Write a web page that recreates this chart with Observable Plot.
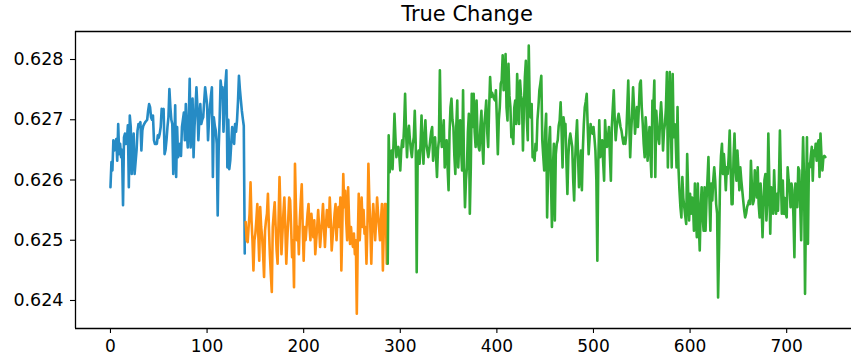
<!DOCTYPE html>
<html><head><meta charset="utf-8">
<script src="https://cdn.jsdelivr.net/npm/d3@7"></script>
<script src="https://cdn.jsdelivr.net/npm/@observablehq/plot@0.6"></script>
<style>
html,body{margin:0;padding:0;background:#fff;overflow:hidden}
#chart{position:relative;width:851px;height:360px}
#title{position:absolute;left:0;width:934px;text-align:center;top:2px;font:21px "DejaVu Sans",sans-serif;color:#000}
#plot{position:absolute;left:0;top:0}
</style></head><body>
<div id="chart"><div id="plot"></div><div id="title">True Change</div></div>
<script>
const title = "True Change";
const xTicks = [0, 100, 200, 300, 400, 500, 600, 700];
const yTicks = [0.624, 0.625, 0.626, 0.627, 0.628];
const blueStart = 0, orangeStart = 140, greenStart = 287;
const blueValues = [
.62588,.62630,.62616,.62666,.62649,.62655,.62668,.62632,.62693,.62643,
.62660,.62638,.62650,.62558,.62671,.62677,.62660,.62666,.62691,.62588,
.62707,.62688,.62610,.62640,.62677,.62610,.62630,.62649,.62682,.62693,
.62690,.62696,.62649,.62682,.62690,.62693,.62696,.62698,.62700,.62715,
.62726,.62721,.62704,.62700,.62707,.62666,.62660,.62660,.62660,.62674,
.62670,.62677,.62688,.62718,.62716,.62718,.62643,.62650,.62666,.62688,
.62704,.62751,.62721,.62700,.62693,.62610,.62650,.62724,.62605,.62688,
.62638,.62643,.62660,.62640,.62688,.62700,.62712,.62666,.62726,.62680,
.62654,.62700,.62768,.62654,.62700,.62735,.62638,.62688,.62720,.62754,
.62721,.62666,.62700,.62726,.62693,.62700,.62704,.62730,.62754,.62740,
.62726,.62666,.62699,.62720,.62740,.62754,.62605,.62704,.62690,.62682,
.62660,.62541,.62650,.62700,.62765,.62750,.62754,.62680,.62720,.62760,
.62782,.62621,.62700,.62618,.62632,.62660,.62688,.62670,.62660,.62693,
.62680,.62699,.62730,.62773,.62750,.62732,.62715,.62702,.62690,.62478];
const orangeValues = [
.62530,.62500,.62497,.62522,.62544,.62596,.62533,.62500,.62450,.62500,
.62511,.62533,.62560,.62511,.62466,.62555,.62522,.62505,.62477,.62439,
.62516,.62533,.62544,.62577,.62522,.62477,.62444,.62414,.62522,.62544,
.62563,.62522,.62483,.62461,.62533,.62605,.62544,.62477,.62511,.62544,
.62571,.62522,.62461,.62500,.62533,.62571,.62566,.62522,.62472,.62500,
.62422,.62627,.62555,.62500,.62522,.62477,.62533,.62566,.62593,.62522,
.62466,.62522,.62500,.62522,.62544,.62560,.62522,.62500,.62544,.62522,
.62505,.62533,.62477,.62500,.62522,.62550,.62522,.62489,.62511,.62533,
.62560,.62522,.62489,.62522,.62550,.62533,.62522,.62571,.62533,.62483,
.62505,.62522,.62544,.62560,.62500,.62533,.62555,.62522,.62571,.62450,
.62522,.62610,.62555,.62582,.62533,.62500,.62588,.62533,.62494,.62522,
.62500,.62489,.62511,.62477,.62500,.62378,.62500,.62577,.62500,.62533,
.62571,.62522,.62550,.62511,.62522,.62461,.62522,.62627,.62566,.62522,
.62461,.62522,.62560,.62533,.62500,.62533,.62571,.62544,.62522,.62500,
.62533,.62560,.62450,.62522,.62560,.62560,.62461];
const greenValues = [
.62461,.62674,.62613,.62640,.62649,.62618,.62660,.62710,.62670,.62638,
.62650,.62655,.62640,.62616,.62650,.62666,.62655,.62690,.62743,.62680,
.62638,.62677,.62690,.62666,.62650,.62638,.62660,.62671,.62715,.62660,
.62447,.62640,.62649,.62627,.62660,.62707,.62660,.62627,.62670,.62699,
.62660,.62649,.62638,.62650,.62666,.62680,.62688,.62632,.62660,.62671,
.62640,.62605,.62650,.62666,.62782,.62680,.62655,.62680,.62699,.62621,
.62650,.62666,.62620,.62583,.62680,.62721,.62735,.62700,.62688,.62640,
.62610,.62690,.62732,.62621,.62660,.62699,.62650,.62616,.62749,.62620,
.62555,.62600,.62621,.62680,.62710,.62544,.62620,.62743,.62688,.62743,
.62680,.62655,.62732,.62670,.62655,.62649,.62690,.62715,.62660,.62627,
.62693,.62710,.62732,.62680,.62655,.62720,.62771,.62738,.62745,.62740,
.62735,.62732,.62749,.62700,.62643,.62700,.62721,.62760,.62765,.62807,
.62749,.62760,.62809,.62720,.62699,.62793,.62740,.62721,.62671,.62680,
.62660,.62720,.62732,.62693,.62776,.62720,.62693,.62765,.62740,.62732,
.62649,.62720,.62771,.62798,.62700,.62666,.62823,.62720,.62704,.62726,
.62638,.62640,.62632,.62660,.62649,.62700,.62721,.62749,.62760,.62773,
.62666,.62640,.62616,.62680,.62710,.62538,.62610,.62660,.62688,.62600,
.62522,.62621,.62660,.62533,.62643,.62660,.62666,.62690,.62699,.62729,
.62680,.62621,.62704,.62690,.62693,.62630,.62577,.62640,.62666,.62677,
.62666,.62655,.62600,.62566,.62632,.62670,.62699,.62640,.62588,.62620,
.62649,.62583,.62650,.62693,.62721,.62730,.62743,.62690,.62643,.62670,
.62693,.62680,.62677,.62688,.62670,.62649,.62600,.62466,.62630,.62699,
.62638,.62650,.62666,.62630,.62599,.62699,.62670,.62655,.62670,.62688,
.62640,.62599,.62688,.62720,.62749,.62700,.62666,.62688,.62700,.62710,
.62700,.62688,.62682,.62670,.62660,.62670,.62660,.62677,.62720,.62765,
.62700,.62638,.62680,.62710,.62754,.62720,.62677,.62700,.62721,.62688,
.62720,.62760,.62765,.62720,.62693,.62660,.62638,.62704,.62680,.62632,
.62660,.62688,.62640,.62605,.62732,.62720,.62765,.62605,.62715,.62688,
.62670,.62660,.62704,.62729,.62700,.62649,.62682,.62693,.62720,.62779,
.62621,.62700,.62779,.62700,.62621,.62776,.62671,.62693,.62670,.62621,
.62721,.62620,.62583,.62555,.62538,.62605,.62570,.62555,.62540,.62527,
.62643,.62580,.62533,.62577,.62544,.62571,.62560,.62516,.62594,.62540,
.62505,.62594,.62530,.62483,.62555,.62588,.62540,.62516,.62588,.62516,
.62566,.62600,.62638,.62570,.62516,.62594,.62566,.62600,.62621,.62599,
.62560,.62544,.62405,.62489,.62599,.62640,.62660,.62610,.62643,.62620,
.62583,.62621,.62610,.62640,.62682,.62620,.62560,.62560,.62638,.62677,
.62620,.62599,.62649,.62620,.62583,.62621,.62600,.62583,.62566,.62550,
.62538,.62544,.62555,.62560,.62566,.62560,.62632,.62590,.62560,.62566,
.62616,.62590,.62571,.62621,.62560,.62538,.62594,.62560,.62505,.62560,
.62600,.62610,.62533,.62566,.62677,.62600,.62511,.62588,.62560,.62544,
.62616,.62570,.62544,.62577,.62549,.62600,.62682,.62600,.62544,.62599,
.62544,.62570,.62544,.62538,.62621,.62600,.62588,.62555,.62594,.62583,
.62540,.62472,.62594,.62560,.62555,.62621,.62616,.62560,.62500,.62594,
.62671,.62600,.62411,.62560,.62671,.62494,.62627,.62621,.62640,.62655,
.62599,.62649,.62640,.62660,.62632,.62660,.62666,.62605,.62677,.62640,
.62616,.62638,.62640,.62638];

const toRows = (vals, start) => vals.map((v, j) => ({x: start + j, y: v}));
const blue = toRows(blueValues, blueStart);
const orange = toRows(orangeValues, orangeStart);
const green = toRows(greenValues, greenStart);

const xDom = [-36.2, 767.1];
const yDom = [0.623535, 0.628465];

const chart = Plot.plot({
  width: 851, height: 360,
  marginLeft: 75, marginRight: 0, marginTop: 31, marginBottom: 32,
  style: {fontFamily: "'DejaVu Sans', sans-serif", fontSize: "17px", color: "#000", background: "#fff", overflow: "visible"},
  x: {domain: xDom, label: null},
  y: {domain: yDom, label: null},
  marks: [
    Plot.line(blue, {x: "x", y: "y", stroke: "#268bc5", strokeWidth: 2.6}),
    Plot.line(orange, {x: "x", y: "y", stroke: "#ff9112", strokeWidth: 2.6}),
    Plot.line(green, {x: "x", y: "y", stroke: "#33ac36", strokeWidth: 2.6}),
    Plot.ruleX([xDom[0]], {stroke: "#000", strokeWidth: 1.3}),
    Plot.ruleY([yDom[0], yDom[1]], {stroke: "#000", strokeWidth: 1.3}),
    Plot.axisX({ticks: xTicks, tickSize: 5, tickPadding: 6, fontSize: 17, stroke: "#000", strokeWidth: 1.1, label: null}),
    Plot.axisY({ticks: yTicks, tickSize: 5, tickPadding: 7, fontSize: 17.5, tickFormat: d3.format(".3f"), stroke: "#000", strokeWidth: 1.1, label: null})
  ]
});
document.getElementById("plot").appendChild(chart);
</script>
</body></html>
